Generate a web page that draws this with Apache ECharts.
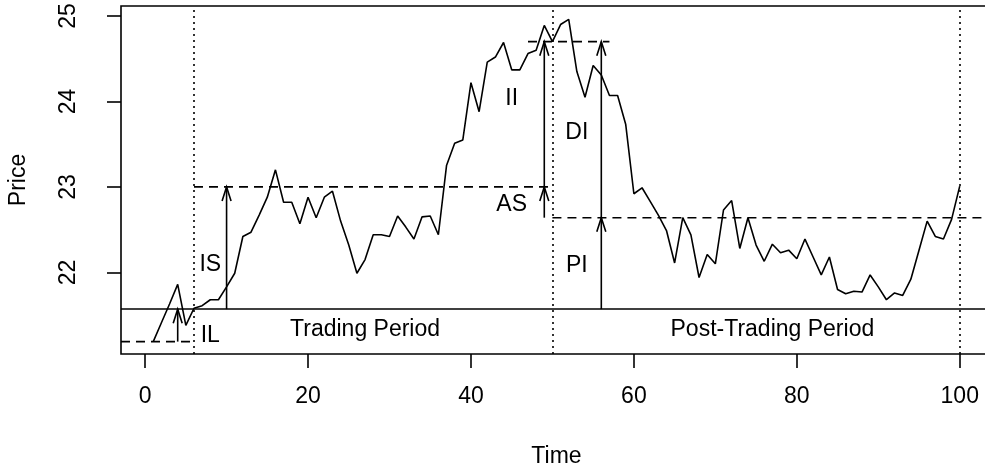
<!DOCTYPE html>
<html>
<head>
<meta charset="utf-8">
<script src="https://cdn.jsdelivr.net/npm/echarts@6/dist/echarts.min.js"></script>
<style>
  html, body { margin: 0; padding: 0; background: #fff; }
  #chart { width: 985px; height: 470px; }
</style>
</head>
<body>
<div id="chart"></div>
<script>
// ---- data ----
const price = [
  21.19, 21.41, 21.63, 21.86, 21.38, 21.58, 21.61, 21.68, 21.68, 21.83,
  21.99, 22.42, 22.47, 22.67, 22.88, 23.20, 22.82, 22.82, 22.57, 22.88,
  22.64, 22.88, 22.95, 22.60, 22.32, 21.99, 22.15, 22.44, 22.44, 22.42,
  22.66, 22.53, 22.39, 22.65, 22.66, 22.44, 23.25, 23.51, 23.55, 24.22,
  23.88, 24.46, 24.52, 24.69, 24.37, 24.37, 24.56, 24.60, 24.89, 24.70,
  24.90, 24.96, 24.35, 24.05, 24.42, 24.31, 24.07, 24.07, 23.73, 22.92,
  22.99, 22.83, 22.67, 22.49, 22.11, 22.64, 22.44, 21.94, 22.21, 22.10,
  22.73, 22.84, 22.28, 22.64, 22.32, 22.13, 22.33, 22.23, 22.26, 22.16,
  22.39, 22.18, 21.97, 22.18, 21.80, 21.75, 21.78, 21.77, 21.97, 21.83,
  21.68, 21.76, 21.73, 21.92, 22.26, 22.60, 22.42, 22.39, 22.62, 23.01
];
const time = price.map((_, i) => i + 1);

const xTicks = [0, 20, 40, 60, 80, 100];
const yTicks = [22, 23, 24, 25];
const xLim = [-2.96, 103.96];
const yLim = [21.045, 25.117];

// reference levels
const baseLevel = 21.57;          // solid horizontal line
const periodBounds = [6, 50, 100]; // dotted vertical lines

// dashed horizontal segments: [xFrom, xTo, level]
const dashedSegments = [
  [xLim[0], 6, 21.19],
  [6, 50, 23.0],
  [47, 57, 24.7],
  [50, xLim[1], 22.64]
];

// arrows: [x, from, to]
const arrows = [
  [4, 21.19, 21.57],
  [10, 21.57, 23.0],
  [49, 22.64, 23.0],
  [49, 23.0, 24.7],
  [56, 21.57, 22.64],
  [56, 22.64, 24.7]
];

// annotations: [text, x, y]
const annotations = [
  ['IL', 8, 21.26],
  ['IS', 8, 22.09],
  ['II', 45, 24.035],
  ['AS', 45, 22.79],
  ['DI', 53, 23.63],
  ['PI', 53, 22.08],
  ['Trading Period', 27, 21.33],
  ['Post-Trading Period', 77, 21.33]
];

// ---- chart ----
const FONT = '"Liberation Sans", Arial, Helvetica, sans-serif';
const FS = 23;
const LW = 1.6;

const chart = echarts.init(document.getElementById('chart'), null, { renderer: 'canvas' });

const markLineData = [];
markLineData.push({ yAxis: baseLevel, lineStyle: { type: 'solid', color: '#000', width: LW } });
periodBounds.forEach(x => markLineData.push({ xAxis: x, lineStyle: { type: [2, 4], color: '#000', width: LW } }));

const series = [
  {
    type: 'line',
    data: time.map((t, i) => [t, price[i]]),
    symbol: 'none',
    lineStyle: { color: '#000', width: LW },
    z: 5,
    markLine: {
      silent: true,
      symbol: 'none',
      label: { show: false },
      animation: false,
      data: markLineData
    }
  }
];

dashedSegments.forEach(seg => {
  series.push({
    type: 'line',
    data: [[seg[0], seg[2]], [seg[1], seg[2]]],
    symbol: 'none',
    lineStyle: { color: '#000', width: LW, type: [9, 6] },
    z: 4
  });
});

series.push({
  type: 'custom',
  data: arrows,
  z: 6,
  renderItem: function (params, api) {
    const x = api.value(0), y0 = api.value(1), y1 = api.value(2);
    const p0 = api.coord([x, y0]);
    const p1 = api.coord([x, y1]);
    const dir = p1[1] < p0[1] ? 1 : -1;
    const headLen = 14, headHalf = 4.5;
    return {
      type: 'group',
      children: [
        { type: 'line', shape: { x1: p0[0], y1: p0[1], x2: p1[0], y2: p1[1] },
          style: { stroke: '#000', lineWidth: LW } },
        { type: 'polyline', shape: { points: [
            [p1[0] - headHalf, p1[1] + dir * headLen], [p1[0], p1[1]], [p1[0] + headHalf, p1[1] + dir * headLen]
          ] },
          style: { stroke: '#000', fill: null, lineWidth: LW } }
      ]
    };
  }
});

series.push({
  type: 'custom',
  data: annotations.map(a => [a[1], a[2]]),
  z: 7,
  silent: true,
  renderItem: function (params, api) {
    const p = api.coord([api.value(0), api.value(1)]);
    return {
      type: 'text',
      x: p[0], y: p[1],
      style: {
        text: annotations[params.dataIndex][0],
        fill: '#000',
        fontSize: FS,
        fontFamily: FONT,
        align: 'center',
        verticalAlign: 'middle'
      }
    };
  }
});

const option = {
  animation: false,
  backgroundColor: '#fff',
  grid: {
    left: 121, top: 6, width: 871, height: 348,
    show: true, borderColor: '#000', borderWidth: LW,
    containLabel: false, outerBoundsMode: 'none'
  },
  xAxis: {
    type: 'value',
    min: xLim[0], max: xLim[1],
    name: 'Time', nameLocation: 'middle', nameGap: 91,
    nameTextStyle: { color: '#000', fontSize: FS, fontFamily: FONT },
    axisLine: { show: false, onZero: false },
    splitLine: { show: false },
    axisTick: { show: true, customValues: xTicks, length: 14, lineStyle: { color: '#000', width: LW } },
    axisLabel: { customValues: xTicks, margin: 31, color: '#000', fontSize: FS, fontFamily: FONT }
  },
  yAxis: {
    type: 'value',
    min: yLim[0], max: yLim[1],
    name: 'Price', nameLocation: 'middle', nameGap: 91,
    nameTextStyle: { color: '#000', fontSize: FS, fontFamily: FONT },
    axisLine: { show: false, onZero: false },
    splitLine: { show: false },
    axisTick: { show: true, customValues: yTicks, length: 14, lineStyle: { color: '#000', width: LW } },
    axisLabel: { customValues: yTicks, rotate: 90, margin: 41, color: '#000', fontSize: FS, fontFamily: FONT }
  },
  series: series
};

chart.setOption(option);
</script>
</body>
</html>
